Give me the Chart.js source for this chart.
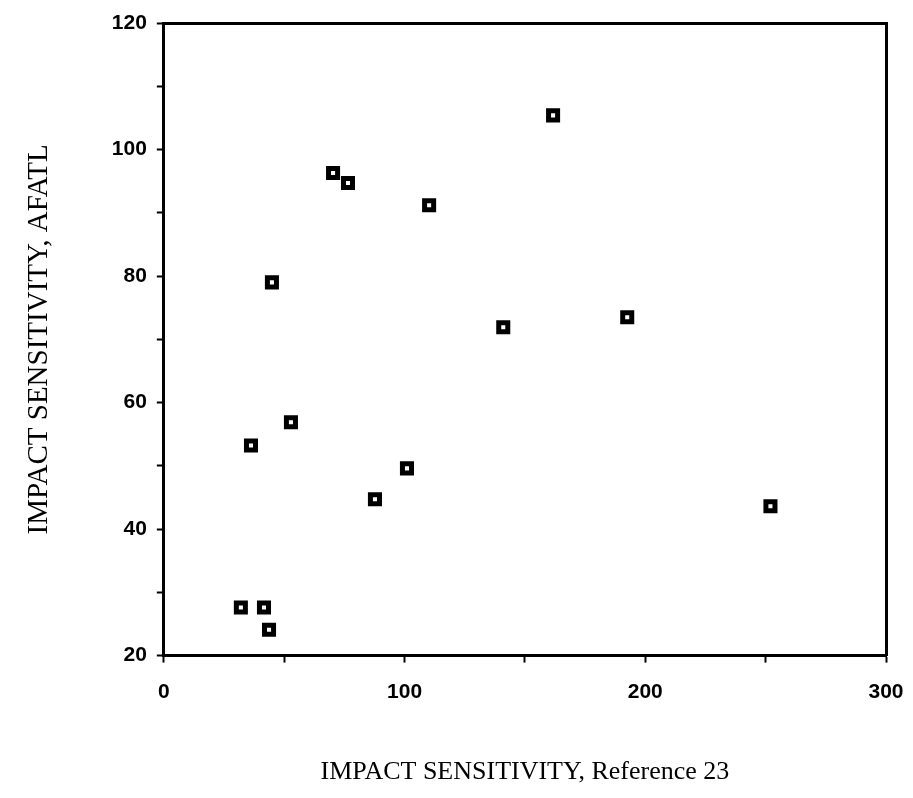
<!DOCTYPE html>
<html>
<head>
<meta charset="utf-8">
<script src="https://cdn.jsdelivr.net/npm/chart.js@4"></script>
<style>
  html, body { margin: 0; padding: 0; background: #fff; }
  #wrap { width: 913px; height: 798px; }
</style>
</head>
<body>
<div id="wrap"><canvas id="myChart"></canvas></div>
<script>
// impact sensitivity, reference 23 (x) vs AFATL (y)
const refValues = [32, 41.6, 43.7, 36.2, 44.9, 52.8, 70.3, 76.5, 87.7, 101, 110.2, 141, 161.7, 192.5, 252];
const afatlValues = [27.6, 27.6, 24.1, 53.2, 79.0, 56.9, 96.3, 94.7, 44.7, 49.6, 91.2, 71.9, 105.4, 73.5, 43.6];
const xTicks = [0, 100, 200, 300];
const yTicks = [20, 40, 60, 80, 100, 120];

const points = refValues.map((x, i) => ({ x: x, y: afatlValues[i] }));

const tickFont = { family: 'Liberation Sans', size: 21, weight: 'bold' };

const ctx = document.getElementById('myChart').getContext('2d');
const myChart = new Chart(ctx, {
  type: 'scatter',
  data: {
    datasets: [{
      data: points,
      pointStyle: 'rect',
      pointRadius: 6.4,
      pointHoverRadius: 6.4,
      pointBorderWidth: 5,
      backgroundColor: '#fff',
      borderColor: '#000',
    }]
  },
  options: {
    responsive: true,
    maintainAspectRatio: false,
    animation: false,
    layout: { padding: { top: 23, right: 27, left: 22, bottom: 10 } },
    plugins: {
      legend: { display: false },
      tooltip: { enabled: false },
    },
    scales: {
      x: {
        type: 'linear',
        min: 0, max: 300,
        border: { display: true, color: '#000', width: 3 },
        grid: { drawOnChartArea: false, color: '#000', tickLength: 7, tickWidth: 2 },
        ticks: {
          stepSize: 50,
          color: '#000',
          font: tickFont,
          padding: 17,
          maxRotation: 0,
          callback: v => xTicks.includes(v) ? v : '',
        },
        // let the "300" label hang over the right padding
        afterFit: scale => { scale.paddingRight = 0; },
        title: {
          display: true,
          text: 'IMPACT SENSITIVITY, Reference 23',
          color: '#000',
          font: { family: 'Liberation Serif', size: 26 },
          padding: { top: 35, bottom: 0 },
        },
      },
      y: {
        type: 'linear',
        min: 20, max: 120,
        border: { display: true, color: '#000', width: 3 },
        grid: { drawOnChartArea: false, color: '#000', tickLength: 7, tickWidth: 2 },
        ticks: {
          stepSize: 10,
          color: '#000',
          font: tickFont,
          padding: 10,
          callback: v => yTicks.includes(v) ? v : '',
        },
        afterFit: scale => { scale.paddingTop = 0; },
        title: {
          display: true,
          text: 'IMPACT SENSITIVITY, AFATL',
          color: '#000',
          font: { family: 'Liberation Serif', size: 29 },
          padding: { top: 0, bottom: 45 },
        },
      },
      // top and right frame lines
      x2: {
        type: 'linear',
        position: 'top',
        min: 0, max: 300,
        border: { display: true, color: '#000', width: 3 },
        grid: { display: false },
        ticks: { display: false },
        afterFit: scale => { scale.height = 0; scale.paddingLeft = 0; scale.paddingRight = 0; },
      },
      y2: {
        type: 'linear',
        position: 'right',
        min: 20, max: 120,
        border: { display: true, color: '#000', width: 3 },
        grid: { display: false },
        ticks: { display: false },
        afterFit: scale => { scale.width = 0; scale.paddingTop = 0; scale.paddingBottom = 0; },
      },
    },
  },
});
</script>
</body>
</html>
